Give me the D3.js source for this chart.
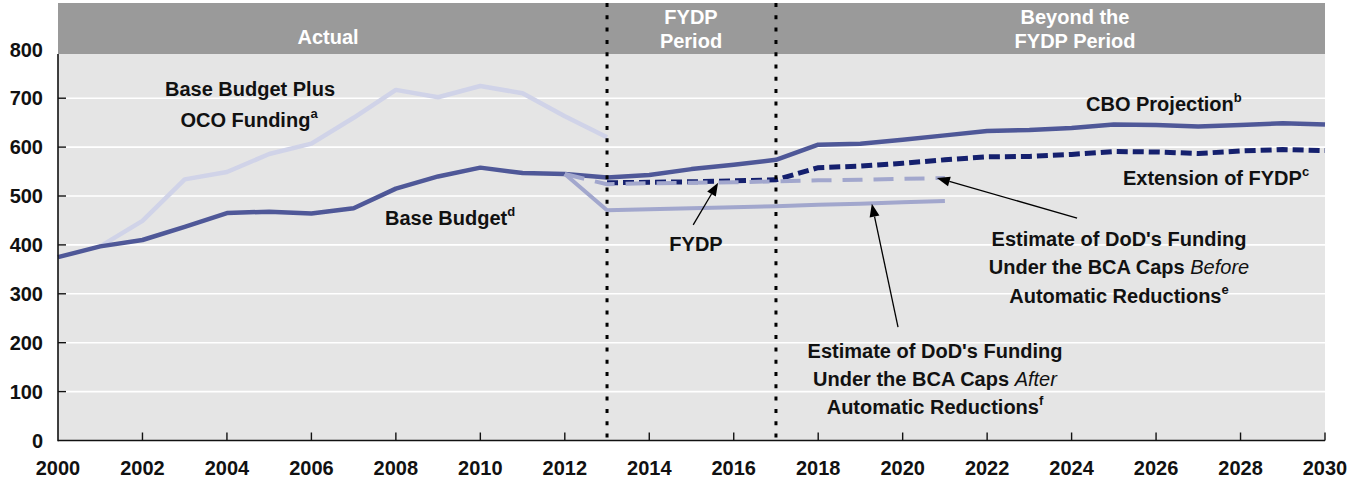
<!DOCTYPE html>
<html>
<head>
<meta charset="utf-8">
<script src="https://cdn.jsdelivr.net/npm/d3@7/dist/d3.min.js"></script>
<style>
  html, body { margin: 0; padding: 0; background: #ffffff; }
  svg { display: block; font-family: "Liberation Sans", Arial, sans-serif; }
</style>
</head>
<body>
<svg id="chart" width="1362" height="480"></svg>
<script>
// ---------------- data ----------------
const baseYears = [2000,2001,2002,2003,2004,2005,2006,2007,2008,2009,2010,2011,2012,2013,2014,2015,2016,2017,2018,2019,2020,2021,2022,2023,2024,2025,2026,2027,2028,2029,2030];
const baseValues = [375,397,410,437,465,468,464,475,515,540,558,547,545,538,543,555,564,574,605,607,615,624,633,635,639,646,645,642,645,649,646];

const ocoYears = [2001,2002,2003,2004,2005,2006,2007,2008,2009,2010,2011,2012,2013];
const ocoValues = [397,449,534,549,586,607,660,717,702,725,710,663,620];

const fydpYears = [2013,2014,2015,2016,2017,2018,2019,2020,2021,2022,2023,2024,2025,2026,2027,2028,2029,2030];
const fydpValues = [527,528,529,531,533,558,561,567,574,580,581,585,591,590,587,592,595,593];

const bcaBeforeYears = [2012,2013,2014,2015,2016,2017,2018,2019,2020,2021];
const bcaBeforeValues = [545,524,526,527,528,530,532,533,535,537];

const bcaAfterYears = [2012,2013,2014,2015,2016,2017,2018,2019,2020,2021];
const bcaAfterValues = [545,471,473,475,477,479,482,484,487,490];

const yTicks = [0,100,200,300,400,500,600,700,800];
const xTicks = [2000,2002,2004,2006,2008,2010,2012,2014,2016,2018,2020,2022,2024,2026,2028,2030];
const periodBreaks = [2013,2017];

// ---------------- layout ----------------
const svg = d3.select("#chart");
const left = 58, right = 1325, bottom = 440.5, top800 = 49.3;
const headerTop = 3, headerBottom = 54;

const x = d3.scaleLinear().domain([2000, 2030]).range([left, right]);
const y = d3.scaleLinear().domain([0, 800]).range([bottom, top800]);

// plot background
svg.append("rect").attr("x", left).attr("y", headerBottom)
  .attr("width", right - left).attr("height", bottom - headerBottom)
  .attr("fill", "#e5e5e5");

// gridlines
svg.append("g").selectAll("line").data(yTicks.filter(d => d > 0 && d < 800)).join("line")
  .attr("x1", left).attr("x2", right)
  .attr("y1", d => y(d)).attr("y2", d => y(d))
  .attr("stroke", "#ffffff").attr("stroke-width", 1.6);

// header band
svg.append("rect").attr("x", left).attr("y", headerTop)
  .attr("width", right - left).attr("height", headerBottom - headerTop)
  .attr("fill", "#9a9a9a");

const headerText = [
  {lines: ["Actual"], cx: 328, baselines: [44]},
  {lines: ["FYDP", "Period"], cx: 691, baselines: [24, 47.5]},
  {lines: ["Beyond the", "FYDP Period"], cx: 1075, baselines: [23.5, 47.5]}
];
headerText.forEach(h => {
  h.lines.forEach((t, i) => {
    svg.append("text").attr("x", h.cx).attr("y", h.baselines[i])
      .attr("text-anchor", "middle").attr("fill", "#ffffff")
      .attr("font-size", 20).attr("font-weight", "bold").text(t);
  });
});

// lines
const line = d3.line().x(d => x(d[0])).y(d => y(d[1]));
const zip = (a, b) => a.map((v, i) => [v, b[i]]);

svg.append("path").datum(zip(ocoYears, ocoValues)).attr("d", line)
  .attr("fill", "none").attr("stroke", "#d0d3e8").attr("stroke-width", 4.5)
  .attr("stroke-linejoin", "round");

svg.append("path").datum(zip(baseYears, baseValues)).attr("d", line)
  .attr("fill", "none").attr("stroke", "#4f5898").attr("stroke-width", 4.5)
  .attr("stroke-linejoin", "round");

svg.append("path").datum(zip(bcaAfterYears, bcaAfterValues)).attr("d", line)
  .attr("fill", "none").attr("stroke", "#a2a7cd").attr("stroke-width", 4)
  .attr("stroke-linejoin", "round");

svg.append("path").datum(zip(fydpYears, fydpValues)).attr("d", line)
  .attr("fill", "none").attr("stroke", "#15206e").attr("stroke-width", 5)
  .attr("stroke-dasharray", "11,5");

svg.append("path").datum(zip(bcaBeforeYears, bcaBeforeValues)).attr("d", line)
  .attr("fill", "none").attr("stroke", "#a2a7cd").attr("stroke-width", 4)
  .attr("stroke-dasharray", "20,11");

// period dotted lines
svg.append("g").selectAll("line").data(periodBreaks).join("line")
  .attr("x1", d => x(d)).attr("x2", d => x(d))
  .attr("y1", headerTop).attr("y2", bottom)
  .attr("stroke", "#000").attr("stroke-width", 3).attr("stroke-dasharray", "4,8.3");

// axes
svg.append("line").attr("x1", left).attr("x2", left).attr("y1", headerBottom).attr("y2", bottom + 0.75)
  .attr("stroke", "#111").attr("stroke-width", 1.6);
svg.append("line").attr("x1", left).attr("x2", right).attr("y1", bottom).attr("y2", bottom)
  .attr("stroke", "#111").attr("stroke-width", 1.6);

svg.append("g").selectAll("line").data(yTicks.filter(d => d > 0 && d < 800)).join("line")
  .attr("x1", left).attr("x2", left + 8)
  .attr("y1", d => y(d)).attr("y2", d => y(d))
  .attr("stroke", "#111").attr("stroke-width", 1.4);

svg.append("g").selectAll("line").data(xTicks.filter(d => d > 2000)).join("line")
  .attr("x1", d => x(d)).attr("x2", d => x(d))
  .attr("y1", bottom).attr("y2", bottom - 8)
  .attr("stroke", "#111").attr("stroke-width", 1.4);

svg.append("g").selectAll("text").data(yTicks).join("text")
  .attr("x", 43).attr("y", d => y(d)).attr("dy", "0.36em")
  .attr("text-anchor", "end").attr("font-size", 20).attr("font-weight", "bold")
  .attr("fill", "#111").text(d => d);

svg.append("g").selectAll("text").data(xTicks).join("text")
  .attr("x", d => x(d)).attr("y", 475)
  .attr("text-anchor", "middle").attr("font-size", 20).attr("font-weight", "bold")
  .attr("fill", "#111").text(d => d);

// ---------------- annotations ----------------
function label(parts, xPos, yPos, anchor) {
  const t = svg.append("text").attr("x", xPos).attr("y", yPos)
    .attr("text-anchor", anchor || "start").attr("font-size", 20)
    .attr("font-weight", "bold").attr("fill", "#111");
  parts.forEach(p => {
    const s = t.append("tspan").text(p.t);
    if (p.sup) s.attr("font-size", 13).attr("dy", -9);
    if (p.it) s.attr("font-style", "italic").attr("font-weight", "normal");
  });
  return t;
}

label([{t: "Base Budget Plus"}], 250, 96, "middle");
label([{t: "OCO Funding"}, {t: "a", sup: true}], 249, 127, "middle");
label([{t: "Base Budget"}, {t: "d", sup: true}], 385, 225);
label([{t: "FYDP"}], 696, 251, "middle");
label([{t: "CBO Projection"}, {t: "b", sup: true}], 1086, 111);
label([{t: "Extension of FYDP"}, {t: "c", sup: true}], 1123, 185);

label([{t: "Estimate of DoD's Funding"}], 1119, 245.5, "middle");
label([{t: "Under the BCA Caps "}, {t: "Before", it: true}], 1119, 274, "middle");
label([{t: "Automatic Reductions"}, {t: "e", sup: true}], 1119, 302.5, "middle");

label([{t: "Estimate of DoD's Funding"}], 935, 358, "middle");
label([{t: "Under the BCA Caps "}, {t: "After", it: true}], 935, 386, "middle");
label([{t: "Automatic Reductions"}, {t: "f", sup: true}], 935, 413.5, "middle");

// arrows (from -> tip, in data units)
const arrows = [
  {from: [2015.04, 441], to: [2015.63, 527]},
  {from: [2024.13, 455], to: [2020.81, 537]},
  {from: [2019.89, 232], to: [2019.27, 484]}
];
arrows.forEach(a => {
  const x1 = x(a.from[0]), y1 = y(a.from[1]), x2 = x(a.to[0]), y2 = y(a.to[1]);
  const ang = Math.atan2(y2 - y1, x2 - x1);
  const L = 13, W = 5;
  const bx = x2 - L * Math.cos(ang), by = y2 - L * Math.sin(ang);
  svg.append("line").attr("x1", x1).attr("y1", y1).attr("x2", bx).attr("y2", by)
    .attr("stroke", "#000").attr("stroke-width", 1.3);
  const p1 = [bx + W * Math.sin(ang), by - W * Math.cos(ang)];
  const p2 = [bx - W * Math.sin(ang), by + W * Math.cos(ang)];
  svg.append("path").attr("d", `M${x2},${y2}L${p1[0]},${p1[1]}L${p2[0]},${p2[1]}Z`)
    .attr("fill", "#000");
});
</script>
</body>
</html>
